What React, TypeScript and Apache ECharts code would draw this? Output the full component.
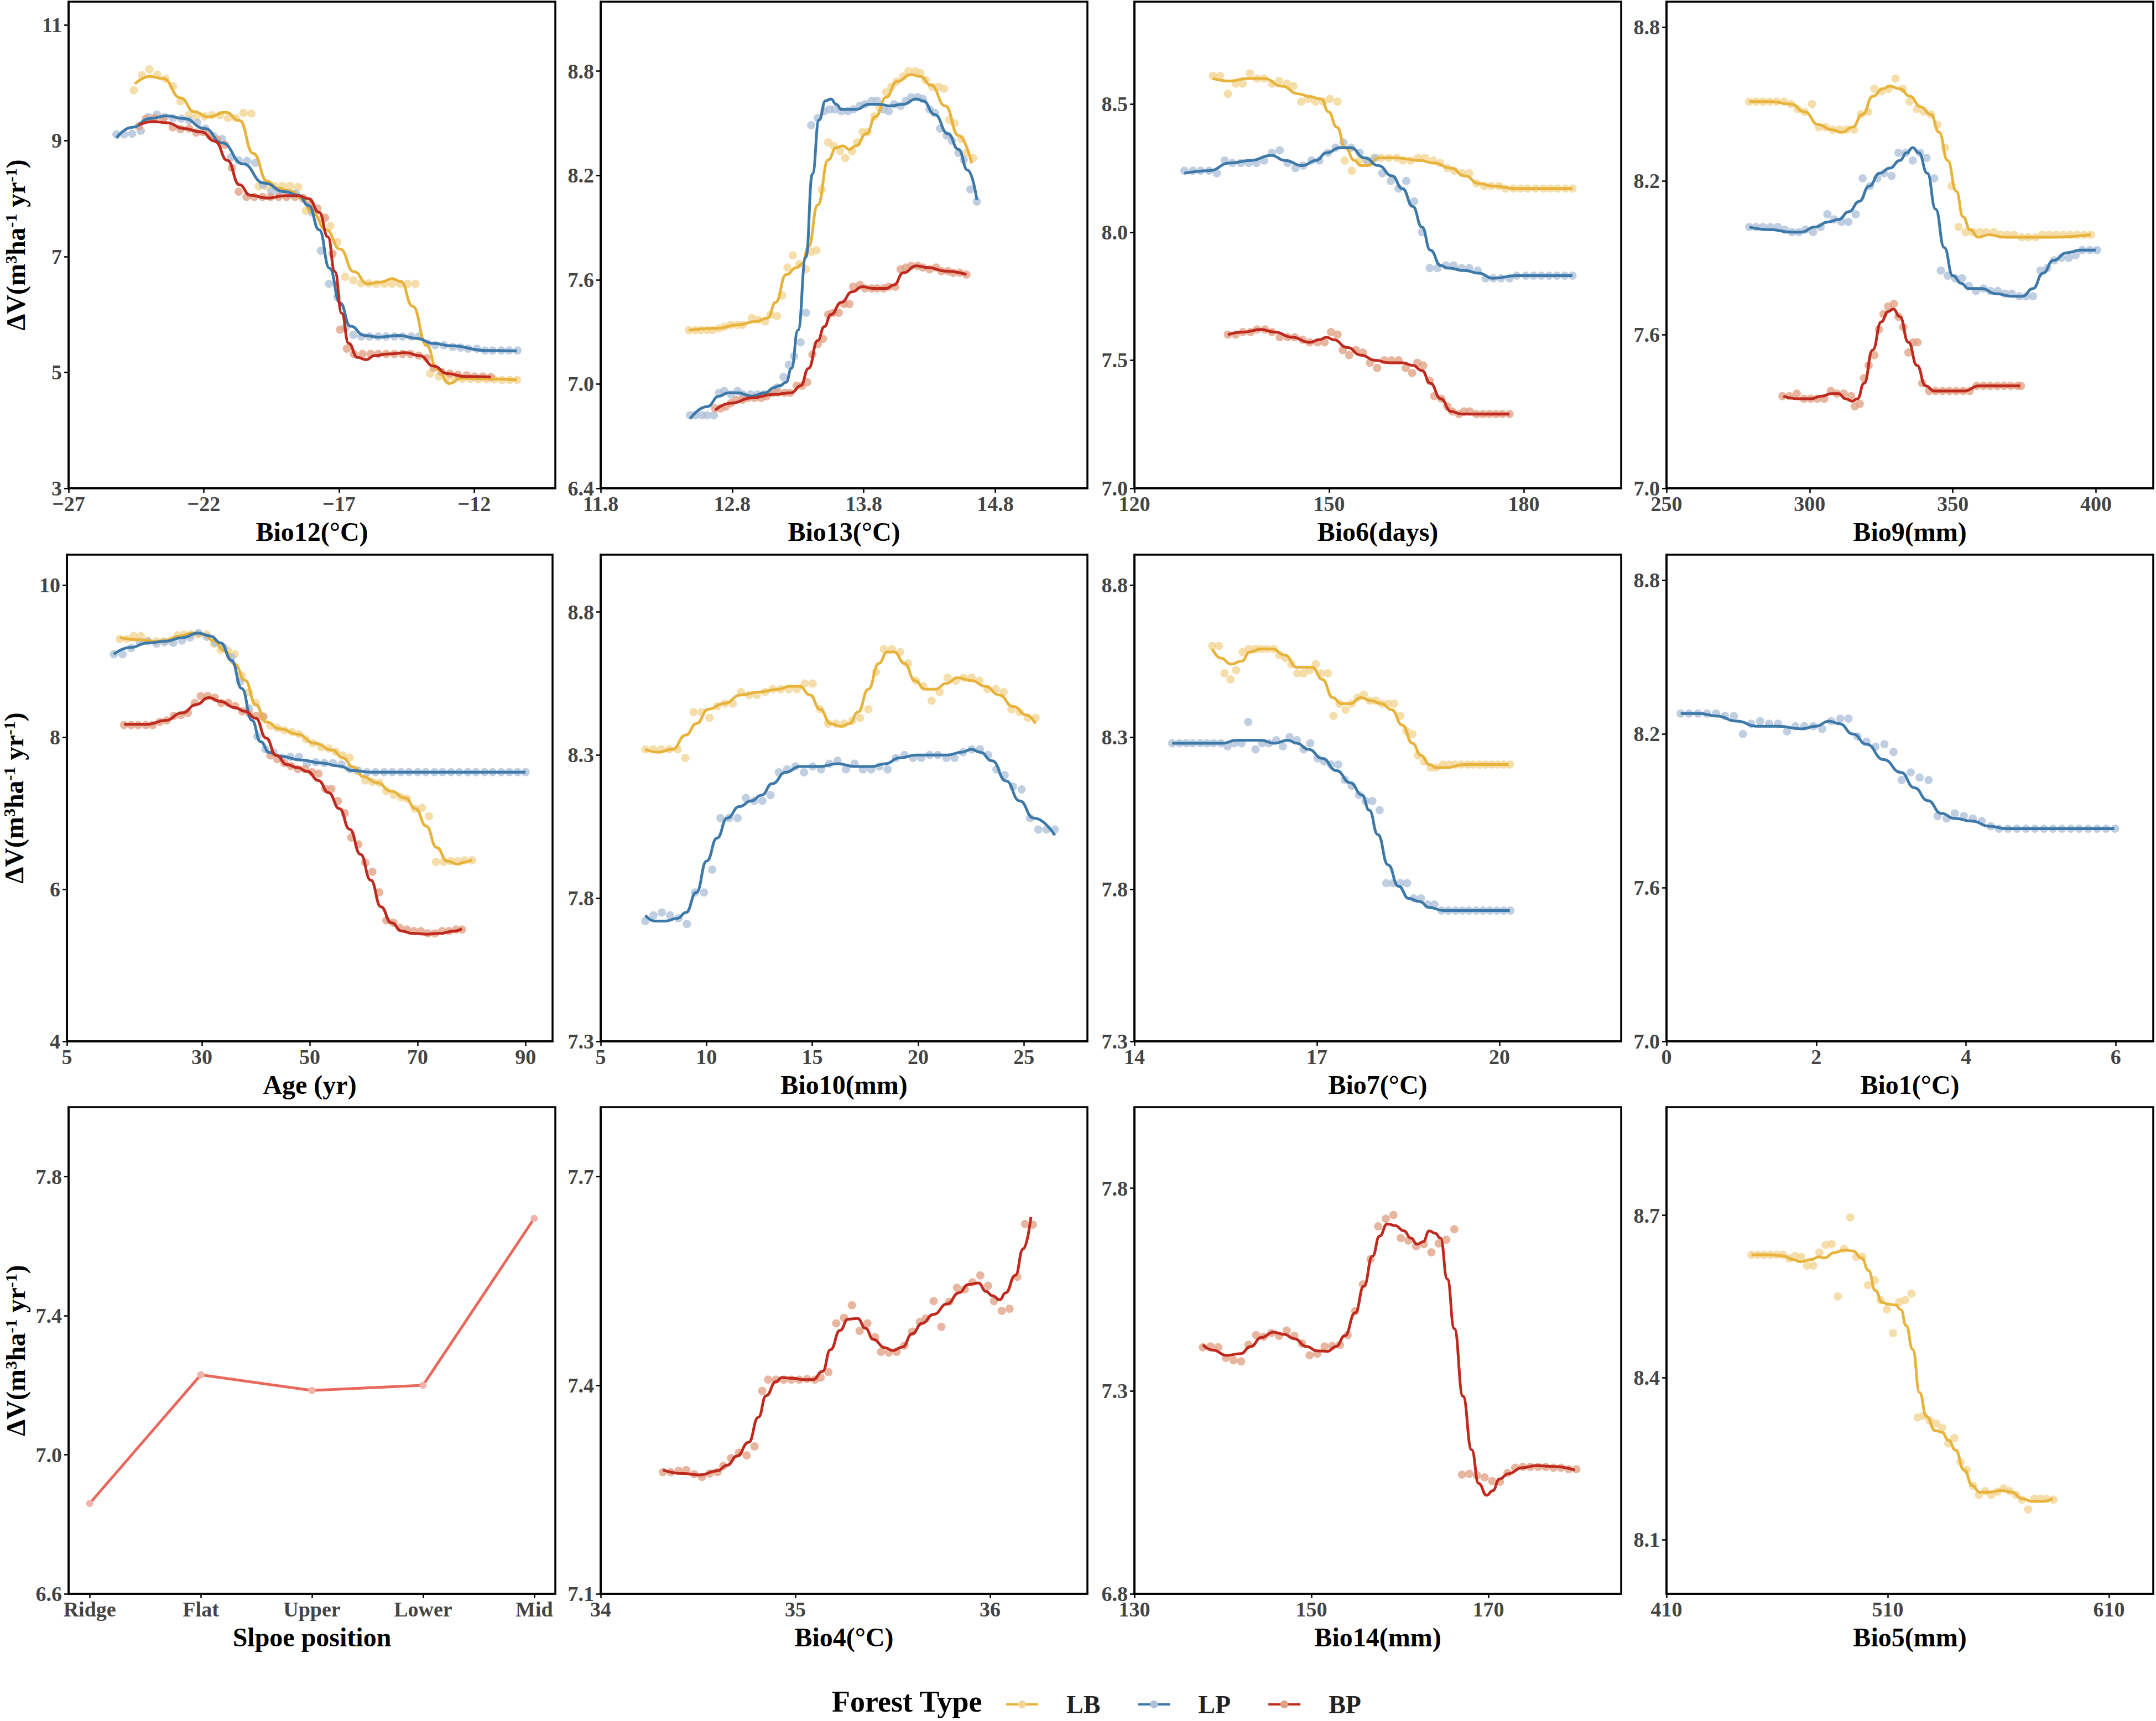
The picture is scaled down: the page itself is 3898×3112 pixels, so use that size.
import React, { useEffect, useRef } from "react";
import * as echarts from "echarts";

const FONT = "'Liberation Serif', 'Times New Roman', serif";

// ---------- Panel 1: Bio12 ----------
const bio12_xTicks = [-27, -22, -17, -12];
const bio12_yTicks = [3, 5, 7, 9, 11];
const bio12_LB_pts = [[-24.59,9.87],[-24.29,10.13],[-24.01,10.23],[-23.72,10.14],[-23.42,10.07],[-23.14,9.94],[-22.86,9.68],[-22.56,9.44],[-22.27,9.42],[-21.97,9.42],[-21.69,9.44],[-21.4,9.44],[-21.1,9.39],[-20.81,9.39],[-20.53,9.48],[-20.24,9.47],[-19.97,8.21],[-19.68,8.21],[-19.4,8.22],[-19.1,8.22],[-18.81,8.22],[-18.51,8.2],[-18.22,7.79],[-17.95,7.8],[-17.6,7.67],[-17.32,7.53],[-17.06,7.25],[-16.77,6.65],[-16.47,6.59],[-16.19,6.54],[-15.9,6.54],[-15.62,6.53],[-15.32,6.53],[-15.04,6.53],[-14.74,6.53],[-14.45,6.53],[-14.17,6.53],[-13.63,4.98],[-13.31,4.93],[-13.02,4.9],[-12.72,4.9],[-12.43,4.89],[-12.14,4.89],[-11.85,4.88],[-11.55,4.88],[-11.26,4.88],[-10.97,4.87],[-10.68,4.87],[-10.42,4.87]];
const bio12_LB_fit = [[-24.55,9.98],[-24.0,10.11],[-23.5,10.07],[-22.86,9.74],[-22.35,9.5],[-21.83,9.41],[-21.19,9.49],[-20.68,9.35],[-20.17,8.78],[-19.65,8.3],[-19.27,8.18],[-18.76,8.13],[-18.37,8.0],[-17.99,7.76],[-17.47,7.46],[-16.96,7.13],[-16.45,6.74],[-15.94,6.53],[-15.42,6.56],[-15.04,6.62],[-14.72,6.57],[-14.27,6.14],[-13.76,5.47],[-13.37,5.05],[-12.92,4.81],[-12.47,4.9],[-11.58,4.89],[-10.42,4.87]];
const bio12_LP_pts = [[-25.23,9.11],[-24.94,9.11],[-24.65,9.12],[-24.33,9.17],[-24.04,9.41],[-23.73,9.45],[-23.44,9.41],[-23.14,9.39],[-22.83,9.38],[-22.54,9.35],[-22.24,9.31],[-21.94,9.21],[-21.64,9.08],[-21.32,9.03],[-21.0,8.71],[-20.71,8.66],[-20.4,8.65],[-20.1,8.62],[-19.81,8.24],[-19.5,8.12],[-19.21,8.12],[-18.91,8.1],[-18.6,8.09],[-18.31,8.0],[-17.99,7.76],[-17.67,7.1],[-17.37,6.53],[-17.06,6.3],[-16.77,5.77],[-16.47,5.65],[-16.17,5.62],[-15.87,5.62],[-15.55,5.62],[-15.26,5.62],[-14.95,5.62],[-14.65,5.62],[-14.33,5.62],[-14.04,5.62],[-13.73,5.5],[-13.44,5.47],[-13.12,5.47],[-12.79,5.44],[-12.5,5.43],[-12.22,5.41],[-11.9,5.41],[-11.6,5.38],[-11.32,5.38],[-11.0,5.38],[-10.71,5.38],[-10.4,5.38]];
const bio12_LP_fit = [[-25.23,9.05],[-24.65,9.23],[-24.01,9.38],[-23.37,9.43],[-22.73,9.38],[-21.96,9.21],[-21.32,8.96],[-20.55,8.6],[-19.78,8.27],[-19.01,8.12],[-18.5,8.06],[-18.12,7.88],[-17.73,7.46],[-17.35,6.8],[-16.96,6.2],[-16.58,5.8],[-16.06,5.64],[-15.55,5.61],[-14.78,5.64],[-14.14,5.59],[-13.5,5.5],[-12.86,5.46],[-11.58,5.38],[-10.42,5.37]];
const bio12_BP_pts = [[-24.4,9.25],[-24.14,9.38],[-23.82,9.39],[-23.5,9.38],[-23.15,9.23],[-22.86,9.2],[-22.54,9.21],[-22.28,9.14],[-22.03,9.15],[-21.77,9.08],[-21.51,9.02],[-21.22,8.93],[-20.96,8.53],[-20.71,8.12],[-20.42,8.03],[-20.13,8.03],[-19.83,8.03],[-19.53,8.03],[-19.23,8.03],[-18.94,8.03],[-18.63,8.03],[-18.33,8.01],[-18.05,7.91],[-17.8,7.83],[-17.51,7.67],[-17.24,7.05],[-16.96,5.74],[-16.71,5.41],[-16.45,5.32],[-16.13,5.32],[-15.83,5.32],[-15.55,5.32],[-15.26,5.32],[-14.95,5.32],[-14.65,5.32],[-14.36,5.32],[-14.05,5.29],[-13.76,5.25],[-13.5,5.08],[-13.21,5.01],[-12.9,4.98],[-12.6,4.96],[-12.28,4.95],[-11.99,4.93],[-11.68,4.93],[-11.38,4.92]];
const bio12_BP_fit = [[-24.4,9.27],[-23.88,9.33],[-23.37,9.31],[-22.73,9.21],[-22.09,9.15],[-21.58,8.99],[-21.13,8.66],[-20.68,8.24],[-20.29,8.06],[-19.65,8.01],[-19.01,8.05],[-18.5,8.05],[-18.12,8.0],[-17.73,7.76],[-17.41,7.34],[-17.15,6.74],[-16.9,6.02],[-16.64,5.5],[-16.32,5.26],[-16.0,5.22],[-15.68,5.29],[-15.17,5.32],[-14.53,5.34],[-14.01,5.29],[-13.5,5.11],[-12.99,4.98],[-12.35,4.93],[-11.38,4.92]];

// ---------- Panel 2: Bio13 ----------
const bio13_xTicks = [11.8, 12.8, 13.8, 14.8];
const bio13_yTicks = [6.4, 7.0, 7.6, 8.2, 8.8];
const bio13_LB_pts = [[12.47,7.31],[12.52,7.31],[12.56,7.31],[12.61,7.31],[12.65,7.31],[12.7,7.32],[12.74,7.33],[12.79,7.34],[12.84,7.34],[12.88,7.34],[12.95,7.38],[13.0,7.37],[13.05,7.36],[13.09,7.4],[13.14,7.39],[13.18,7.51],[13.22,7.67],[13.26,7.74],[13.31,7.69],[13.36,7.66],[13.4,7.76],[13.44,7.77],[13.48,8.12],[13.53,8.39],[13.57,8.37],[13.62,8.34],[13.66,8.3],[13.71,8.34],[13.75,8.39],[13.79,8.45],[13.83,8.45],[13.88,8.54],[13.92,8.59],[13.97,8.68],[14.01,8.71],[14.05,8.74],[14.1,8.77],[14.14,8.8],[14.19,8.8],[14.23,8.79],[14.27,8.75],[14.32,8.71],[14.37,8.71],[14.41,8.7],[14.45,8.52],[14.49,8.5],[14.54,8.41],[14.58,8.33],[14.63,8.3]];
const bio13_LB_fit = [[12.47,7.31],[12.69,7.32],[12.84,7.34],[12.98,7.36],[13.07,7.38],[13.13,7.47],[13.21,7.63],[13.29,7.67],[13.33,7.69],[13.38,7.79],[13.45,8.03],[13.53,8.29],[13.59,8.36],[13.64,8.37],[13.69,8.35],[13.74,8.37],[13.82,8.44],[13.89,8.54],[13.97,8.65],[14.05,8.74],[14.16,8.78],[14.23,8.77],[14.31,8.72],[14.42,8.6],[14.52,8.43],[14.62,8.27]];
const bio13_LP_pts = [[12.48,6.82],[12.52,6.82],[12.57,6.82],[12.61,6.82],[12.66,6.82],[12.7,6.95],[12.74,6.96],[12.79,6.94],[12.84,6.96],[12.88,6.94],[12.94,6.94],[12.99,6.94],[13.04,6.94],[13.09,6.95],[13.14,6.98],[13.19,7.04],[13.23,7.11],[13.27,7.16],[13.32,7.24],[13.36,7.41],[13.4,8.49],[13.45,8.53],[13.5,8.57],[13.54,8.58],[13.58,8.58],[13.63,8.57],[13.68,8.57],[13.72,8.58],[13.77,8.6],[13.81,8.61],[13.86,8.63],[13.9,8.63],[13.95,8.58],[13.99,8.57],[14.03,8.61],[14.08,8.6],[14.12,8.63],[14.16,8.65],[14.21,8.65],[14.25,8.64],[14.3,8.58],[14.34,8.56],[14.38,8.47],[14.43,8.43],[14.47,8.4],[14.52,8.33],[14.56,8.29],[14.61,8.12],[14.66,8.05]];
const bio13_LP_fit = [[12.48,6.8],[12.61,6.87],[12.7,6.93],[12.77,6.95],[12.84,6.95],[12.95,6.93],[13.05,6.95],[13.12,6.98],[13.16,6.99],[13.21,7.01],[13.25,7.09],[13.3,7.31],[13.36,7.73],[13.41,8.21],[13.46,8.52],[13.51,8.63],[13.55,8.64],[13.59,8.61],[13.63,8.58],[13.74,8.58],[13.84,8.61],[13.92,8.61],[14.0,8.6],[14.1,8.61],[14.2,8.64],[14.25,8.63],[14.34,8.55],[14.44,8.44],[14.52,8.35],[14.59,8.23],[14.66,8.06]];
const bio13_BP_pts = [[12.67,6.86],[12.71,6.86],[12.75,6.87],[12.79,6.89],[12.83,6.91],[12.88,6.91],[12.92,6.92],[12.97,6.92],[13.02,6.92],[13.06,6.93],[13.11,6.95],[13.15,6.95],[13.2,6.95],[13.24,6.95],[13.29,6.99],[13.33,6.99],[13.37,7.01],[13.41,7.17],[13.45,7.23],[13.49,7.26],[13.53,7.4],[13.57,7.41],[13.61,7.41],[13.65,7.46],[13.69,7.46],[13.72,7.56],[13.77,7.57],[13.81,7.55],[13.86,7.55],[13.9,7.55],[13.95,7.55],[13.99,7.56],[14.04,7.56],[14.08,7.66],[14.12,7.67],[14.16,7.68],[14.21,7.68],[14.25,7.67],[14.3,7.66],[14.35,7.67],[14.39,7.65],[14.44,7.65],[14.48,7.64],[14.53,7.64],[14.58,7.63]];
const bio13_BP_fit = [[12.67,6.85],[12.79,6.89],[12.95,6.92],[13.11,6.94],[13.25,6.95],[13.32,6.99],[13.38,7.09],[13.45,7.25],[13.5,7.33],[13.55,7.4],[13.63,7.47],[13.71,7.53],[13.79,7.56],[13.87,7.55],[13.97,7.55],[14.03,7.57],[14.1,7.64],[14.2,7.68],[14.29,7.67],[14.42,7.65],[14.58,7.63]];

// ---------- Panel 3: Bio6 ----------
const bio6_xTicks = [120, 150, 180];
const bio6_yTicks = [7.0, 7.5, 8.0, 8.5];
const bio6_LB_pts = [[132.1,8.61],[133.2,8.61],[134.4,8.54],[135.6,8.58],[136.7,8.58],[137.8,8.62],[138.9,8.6],[140.0,8.6],[141.2,8.58],[142.3,8.59],[143.5,8.58],[144.5,8.57],[145.7,8.51],[146.8,8.52],[147.9,8.51],[149.1,8.51],[150.1,8.52],[151.3,8.51],[152.4,8.28],[153.5,8.24],[154.7,8.28],[155.8,8.28],[156.9,8.29],[158.0,8.29],[159.2,8.29],[160.4,8.29],[161.4,8.28],[162.6,8.28],[163.7,8.29],[164.8,8.29],[166.0,8.28],[167.1,8.27],[168.2,8.25],[169.3,8.24],[170.5,8.23],[171.6,8.23],[172.7,8.19],[173.9,8.18],[175.0,8.18],[176.2,8.18],[177.2,8.17],[178.4,8.17],[179.5,8.17],[180.6,8.17],[181.8,8.17],[183.0,8.17],[184.1,8.17],[185.2,8.17],[186.4,8.17],[187.5,8.17]];
const bio6_LB_fit = [[132.1,8.6],[134.7,8.59],[137.4,8.6],[140.0,8.6],[142.7,8.57],[145.3,8.54],[146.9,8.53],[148.8,8.52],[149.9,8.47],[151.2,8.41],[152.5,8.33],[153.9,8.28],[154.9,8.26],[156.0,8.26],[157.6,8.29],[160.3,8.29],[164.0,8.28],[166.1,8.27],[168.8,8.25],[170.9,8.22],[173.1,8.19],[175.2,8.18],[178.9,8.17],[187.5,8.17]];
const bio6_LP_pts = [[127.7,8.24],[129.0,8.24],[130.2,8.24],[131.5,8.24],[132.7,8.23],[133.9,8.28],[135.1,8.27],[136.4,8.27],[137.6,8.27],[138.8,8.27],[140.0,8.28],[141.2,8.31],[142.4,8.32],[143.6,8.27],[144.8,8.25],[146.0,8.26],[147.3,8.28],[148.5,8.28],[149.8,8.31],[151.0,8.33],[152.2,8.35],[153.4,8.33],[154.7,8.31],[155.9,8.28],[157.1,8.29],[158.2,8.23],[159.5,8.2],[160.7,8.17],[161.9,8.2],[163.1,8.12],[164.3,8.0],[165.5,7.86],[166.7,7.86],[168.0,7.87],[169.2,7.87],[170.4,7.86],[171.6,7.86],[172.9,7.85],[174.1,7.82],[175.3,7.82],[176.5,7.82],[177.8,7.82],[178.9,7.83],[180.3,7.83],[181.5,7.83],[182.7,7.83],[183.9,7.83],[185.1,7.83],[186.3,7.83],[187.5,7.83]];
const bio6_LP_fit = [[127.7,8.23],[131.5,8.24],[134.7,8.27],[137.9,8.28],[141.1,8.3],[143.2,8.28],[145.9,8.26],[148.0,8.28],[149.6,8.31],[151.7,8.33],[153.3,8.33],[155.5,8.29],[157.6,8.26],[159.7,8.22],[161.3,8.17],[162.9,8.1],[164.3,8.02],[165.6,7.93],[167.2,7.87],[168.3,7.86],[170.9,7.85],[173.1,7.84],[175.2,7.82],[178.9,7.83],[187.5,7.83]];
const bio6_BP_pts = [[134.4,7.6],[135.6,7.6],[136.7,7.61],[137.9,7.61],[138.9,7.62],[140.1,7.62],[141.2,7.61],[142.4,7.59],[143.6,7.59],[144.7,7.59],[145.9,7.58],[147.0,7.57],[148.2,7.57],[149.3,7.57],[150.3,7.61],[151.3,7.6],[152.1,7.54],[153.1,7.52],[154.1,7.54],[155.2,7.53],[156.3,7.49],[157.4,7.47],[158.5,7.5],[159.6,7.5],[160.7,7.5],[161.8,7.47],[162.8,7.45],[163.6,7.49],[164.5,7.48],[165.5,7.42],[166.2,7.36],[167.3,7.35],[168.2,7.32],[169.0,7.3],[170.0,7.29],[170.8,7.3],[171.7,7.3],[172.7,7.29],[173.7,7.29],[174.7,7.29],[175.7,7.29],[176.7,7.29],[177.8,7.29]];
const bio6_BP_fit = [[134.4,7.6],[136.8,7.61],[139.5,7.62],[141.6,7.61],[144.3,7.59],[147.0,7.57],[148.5,7.58],[149.6,7.59],[150.7,7.58],[152.8,7.55],[154.9,7.52],[157.1,7.5],[159.2,7.49],[161.3,7.49],[162.9,7.48],[164.3,7.46],[165.6,7.41],[167.2,7.35],[168.8,7.3],[170.4,7.29],[173.6,7.29],[177.8,7.29]];

// ---------- Panel 4: Bio9 ----------
const bio9_xTicks = [250, 300, 350, 400];
const bio9_yTicks = [7.0, 7.6, 8.2, 8.8];
const bio9_LB_pts = [[278.9,8.51],[281.3,8.51],[283.7,8.51],[286.1,8.51],[288.5,8.51],[291.1,8.51],[293.5,8.5],[295.8,8.48],[298.2,8.47],[300.8,8.5],[303.2,8.41],[305.6,8.41],[308.0,8.4],[310.5,8.4],[312.9,8.4],[315.5,8.4],[317.9,8.46],[320.5,8.47],[322.6,8.56],[325.2,8.55],[327.6,8.56],[330.0,8.6],[332.5,8.56],[334.9,8.51],[337.5,8.48],[339.9,8.47],[342.3,8.46],[344.6,8.42],[347.3,8.33],[349.6,8.18],[352.0,8.02],[354.5,8.0],[356.9,8.0],[359.3,8.0],[361.7,8.0],[364.3,8.0],[366.7,7.99],[369.0,7.99],[371.4,7.99],[374.0,7.98],[376.4,7.98],[378.9,7.98],[381.3,7.99],[383.7,7.99],[386.1,7.99],[388.5,7.99],[391.0,7.99],[393.4,7.99],[395.8,7.99],[398.2,7.99]];
const bio9_LB_fit = [[278.9,8.51],[286.3,8.51],[293.5,8.5],[298.2,8.47],[303.0,8.42],[307.7,8.4],[311.3,8.39],[314.9,8.41],[318.5,8.46],[322.0,8.53],[325.6,8.56],[328.0,8.57],[331.5,8.56],[335.1,8.53],[338.7,8.49],[342.3,8.46],[345.2,8.39],[348.2,8.28],[351.2,8.16],[353.6,8.06],[356.0,8.01],[358.9,7.98],[362.5,7.99],[368.5,7.98],[374.4,7.98],[382.7,7.98],[398.2,7.99]];
const bio9_LP_pts = [[278.9,8.02],[281.3,8.02],[283.7,8.02],[286.3,8.02],[288.9,8.02],[291.3,8.01],[293.8,8.0],[296.2,8.0],[298.6,8.01],[301.2,8.0],[303.8,8.02],[306.2,8.07],[308.6,8.05],[311.1,8.04],[313.5,8.04],[316.1,8.07],[318.5,8.21],[321.1,8.18],[323.6,8.21],[326.0,8.23],[328.6,8.22],[331.0,8.31],[333.6,8.31],[336.0,8.28],[338.5,8.31],[340.8,8.29],[343.5,8.21],[345.8,7.85],[348.2,7.83],[350.8,7.82],[353.2,7.82],[355.6,7.79],[358.1,7.77],[360.7,7.78],[363.1,7.77],[365.7,7.77],[368.2,7.76],[370.6,7.76],[373.2,7.75],[375.6,7.75],[378.0,7.75],[380.6,7.85],[383.0,7.86],[385.4,7.89],[387.9,7.9],[390.5,7.9],[392.9,7.91],[395.2,7.93],[397.9,7.93],[400.4,7.93]];
const bio9_LP_fit = [[278.9,8.02],[286.3,8.01],[293.5,8.0],[297.0,8.0],[301.8,8.02],[306.5,8.04],[310.1,8.05],[313.7,8.08],[317.3,8.12],[320.8,8.18],[324.4,8.23],[328.0,8.25],[331.5,8.28],[333.9,8.31],[336.0,8.33],[338.1,8.31],[341.1,8.23],[344.0,8.09],[347.0,7.94],[350.0,7.83],[353.0,7.8],[355.4,7.78],[360.1,7.78],[364.9,7.76],[370.8,7.75],[374.4,7.75],[378.0,7.78],[381.5,7.84],[385.1,7.89],[389.9,7.92],[394.6,7.93],[400.0,7.93]];
const bio9_BP_pts = [[290.5,7.36],[292.9,7.36],[295.5,7.37],[298.0,7.35],[300.4,7.35],[302.7,7.35],[305.1,7.35],[307.4,7.38],[309.5,7.37],[311.9,7.37],[314.5,7.36],[315.8,7.32],[317.5,7.33],[319.0,7.43],[320.6,7.48],[322.6,7.52],[324.2,7.62],[325.8,7.68],[327.4,7.71],[329.4,7.72],[331.0,7.67],[332.7,7.63],[334.5,7.53],[336.1,7.57],[337.7,7.57],[339.3,7.41],[341.7,7.38],[344.0,7.38],[346.4,7.38],[348.8,7.38],[351.2,7.38],[353.6,7.38],[355.9,7.38],[358.3,7.4],[360.7,7.4],[363.1,7.4],[365.5,7.4],[367.9,7.4],[370.2,7.4],[372.6,7.4],[373.8,7.4]];
const bio9_BP_fit = [[290.8,7.36],[295.8,7.35],[300.6,7.35],[304.2,7.36],[307.7,7.37],[310.1,7.37],[312.5,7.35],[314.9,7.34],[316.7,7.35],[319.0,7.41],[322.0,7.54],[325.0,7.65],[327.4,7.69],[329.2,7.7],[331.5,7.67],[334.5,7.57],[337.5,7.48],[340.5,7.4],[343.5,7.38],[348.2,7.38],[354.2,7.38],[359.0,7.4],[362.5,7.4],[373.5,7.4]];

// ---------- Panel 5: Age ----------
const age_xTicks = [5, 30, 50, 70, 90];
const age_yTicks = [4, 6, 8, 10];
const age_LB_pts = [[14.8,9.29],[16.1,9.29],[17.4,9.33],[18.7,9.33],[20.0,9.27],[21.5,9.26],[22.9,9.26],[24.2,9.27],[25.5,9.34],[26.7,9.35],[28.0,9.35],[29.3,9.35],[30.9,9.35],[32.2,9.23],[33.5,9.15],[34.8,9.14],[36.1,9.09],[37.4,8.81],[38.7,8.59],[40.0,8.45],[41.3,8.27],[42.7,8.15],[44.0,8.12],[45.3,8.09],[46.7,8.07],[48.0,8.04],[49.3,7.97],[50.6,7.92],[52.1,7.87],[53.5,7.85],[54.8,7.81],[56.1,7.76],[57.4,7.73],[58.7,7.56],[60.3,7.43],[61.6,7.41],[62.9,7.4],[64.2,7.29],[65.6,7.24],[66.9,7.21],[68.0,7.19],[69.5,7.06],[70.8,7.07],[72.1,6.96],[73.4,6.36],[74.8,6.36],[76.1,6.37],[77.4,6.37],[78.7,6.38],[80.1,6.38]];
const age_LB_fit = [[14.8,9.31],[18.7,9.28],[21.3,9.26],[23.2,9.27],[25.8,9.33],[28.4,9.37],[30.3,9.35],[32.2,9.27],[34.2,9.14],[36.1,8.96],[38.0,8.75],[40.0,8.43],[41.9,8.2],[44.5,8.11],[47.7,8.04],[50.9,7.92],[54.2,7.83],[56.1,7.73],[58.0,7.61],[60.0,7.48],[62.5,7.4],[65.1,7.29],[67.7,7.2],[69.6,7.06],[71.6,6.83],[73.5,6.55],[75.5,6.37],[77.4,6.33],[79.0,6.36],[80.1,6.39]];
const age_LP_pts = [[13.7,9.09],[15.3,9.09],[16.9,9.17],[18.5,9.25],[20.0,9.26],[21.6,9.23],[23.1,9.25],[24.7,9.24],[26.3,9.27],[27.8,9.31],[29.4,9.37],[30.9,9.32],[32.5,9.24],[34.0,9.18],[35.5,9.05],[37.1,8.73],[38.7,8.38],[40.3,8.01],[41.8,7.84],[43.3,7.8],[44.8,7.73],[46.4,7.74],[48.0,7.74],[49.5,7.65],[51.1,7.67],[52.7,7.66],[54.3,7.66],[55.9,7.64],[57.4,7.58],[59.0,7.56],[60.6,7.54],[62.2,7.54],[63.8,7.54],[65.3,7.54],[66.9,7.54],[68.4,7.54],[70.0,7.54],[71.5,7.54],[73.1,7.54],[74.6,7.54],[76.2,7.54],[77.7,7.54],[79.3,7.54],[80.8,7.54],[82.4,7.54],[83.9,7.54],[85.5,7.54],[87.0,7.54],[88.5,7.54],[90.0,7.54]];
const age_LP_fit = [[13.7,9.09],[16.7,9.18],[20.0,9.24],[23.2,9.26],[26.4,9.31],[29.3,9.37],[31.6,9.33],[33.5,9.24],[35.5,9.01],[37.4,8.64],[39.3,8.22],[40.9,7.94],[42.5,7.8],[44.5,7.75],[48.4,7.7],[52.2,7.66],[55.5,7.62],[58.0,7.56],[61.3,7.54],[90.0,7.54]];
const age_BP_pts = [[15.6,8.16],[16.9,8.16],[18.2,8.16],[19.6,8.16],[20.9,8.16],[22.2,8.2],[23.5,8.22],[24.8,8.28],[26.1,8.29],[27.4,8.32],[28.7,8.45],[29.8,8.54],[31.1,8.54],[32.4,8.52],[33.6,8.45],[34.9,8.45],[36.2,8.41],[37.5,8.34],[38.8,8.31],[40.1,8.28],[41.4,8.27],[42.7,7.76],[44.0,7.71],[45.3,7.66],[46.5,7.62],[47.8,7.58],[49.1,7.58],[50.4,7.54],[51.6,7.52],[52.9,7.32],[54.0,7.32],[55.2,7.16],[56.5,7.0],[57.7,6.68],[59.0,6.59],[60.3,6.35],[61.6,6.23],[62.9,5.96],[64.2,5.59],[65.5,5.56],[66.7,5.49],[68.0,5.47],[69.3,5.45],[70.6,5.45],[71.9,5.42],[73.2,5.42],[74.5,5.45],[75.8,5.45],[77.1,5.47],[78.2,5.47]];
const age_BP_fit = [[15.6,8.17],[20.0,8.17],[23.2,8.22],[26.4,8.32],[29.0,8.43],[31.3,8.52],[33.5,8.47],[36.1,8.39],[38.0,8.34],[40.0,8.25],[41.9,7.99],[43.8,7.76],[45.8,7.64],[47.7,7.6],[49.6,7.55],[51.6,7.43],[53.5,7.27],[55.5,7.06],[57.4,6.79],[59.4,6.46],[61.3,6.12],[63.2,5.77],[65.1,5.56],[67.1,5.45],[69.0,5.42],[71.6,5.41],[74.2,5.42],[76.7,5.45],[78.2,5.48]];

// ---------- Panel 6: Bio10 ----------
const bio10_xTicks = [5, 10, 15, 20, 25];
const bio10_yTicks = [7.3, 7.8, 8.3, 8.8];
const bio10_LB_pts = [[7.11,8.32],[7.49,8.32],[7.86,8.32],[8.25,8.32],[8.63,8.32],[9.0,8.29],[9.39,8.45],[9.76,8.45],[10.14,8.43],[10.5,8.47],[10.87,8.48],[11.24,8.48],[11.63,8.52],[12.01,8.51],[12.38,8.51],[12.77,8.52],[13.13,8.53],[13.5,8.53],[13.88,8.53],[14.27,8.53],[14.64,8.55],[15.02,8.55],[15.37,8.46],[15.75,8.41],[16.12,8.41],[16.51,8.41],[16.89,8.42],[17.26,8.43],[17.65,8.46],[18.01,8.59],[18.38,8.67],[18.76,8.67],[19.15,8.66],[19.52,8.62],[19.89,8.56],[20.25,8.54],[20.64,8.49],[21.02,8.52],[21.39,8.57],[21.78,8.56],[22.15,8.57],[22.53,8.57],[22.9,8.56],[23.28,8.53],[23.67,8.53],[24.04,8.52],[24.41,8.46],[24.8,8.45],[25.18,8.43],[25.55,8.43]];
const bio10_LB_fit = [[7.11,8.32],[7.73,8.31],[8.38,8.32],[9.03,8.37],[9.52,8.41],[10.09,8.46],[10.82,8.48],[11.63,8.51],[12.45,8.52],[13.42,8.53],[13.91,8.54],[14.4,8.54],[14.89,8.51],[15.37,8.46],[15.86,8.41],[16.35,8.4],[16.76,8.41],[17.16,8.45],[17.65,8.53],[18.14,8.62],[18.54,8.66],[18.87,8.66],[19.36,8.62],[19.85,8.56],[20.33,8.53],[20.82,8.53],[21.31,8.55],[21.88,8.57],[22.53,8.56],[23.18,8.54],[23.83,8.51],[24.48,8.47],[25.13,8.44],[25.54,8.41]];
const bio10_LP_pts = [[7.11,7.72],[7.5,7.74],[7.89,7.75],[8.28,7.74],[8.67,7.73],[9.07,7.71],[9.46,7.82],[9.88,7.82],[10.27,7.9],[10.66,8.08],[11.07,8.08],[11.47,8.08],[11.86,8.15],[12.25,8.14],[12.64,8.14],[13.03,8.16],[13.42,8.24],[13.81,8.25],[14.2,8.26],[14.61,8.24],[15.02,8.26],[15.41,8.25],[15.8,8.27],[16.19,8.28],[16.59,8.25],[17.0,8.27],[17.39,8.25],[17.78,8.25],[18.17,8.26],[18.56,8.25],[18.95,8.29],[19.36,8.3],[19.76,8.29],[20.15,8.29],[20.54,8.3],[20.93,8.3],[21.34,8.29],[21.72,8.29],[22.12,8.31],[22.53,8.32],[22.92,8.32],[23.31,8.3],[23.7,8.25],[24.09,8.23],[24.48,8.19],[24.89,8.18],[25.29,8.08],[25.68,8.04],[26.07,8.04],[26.46,8.04]];
const bio10_LP_fit = [[7.11,7.74],[7.57,7.72],[8.06,7.72],[8.63,7.73],[9.03,7.75],[9.52,7.82],[10.01,7.93],[10.5,8.01],[10.98,8.08],[11.55,8.12],[12.12,8.14],[12.61,8.16],[13.1,8.2],[13.75,8.24],[14.4,8.26],[15.37,8.26],[16.19,8.27],[17.0,8.26],[17.81,8.26],[18.46,8.27],[19.11,8.29],[19.93,8.3],[20.74,8.3],[21.39,8.3],[22.04,8.31],[22.53,8.32],[22.93,8.31],[23.5,8.28],[24.15,8.21],[24.8,8.14],[25.46,8.08],[26.46,8.02]];

// ---------- Panel 7: Bio7 ----------
const bio7_xTicks = [14, 17, 20];
const bio7_yTicks = [7.3, 7.8, 8.3, 8.8];
const bio7_LB_pts = [[15.28,8.6],[15.39,8.6],[15.48,8.51],[15.58,8.49],[15.67,8.52],[15.78,8.58],[15.88,8.59],[15.99,8.59],[16.08,8.59],[16.18,8.59],[16.29,8.59],[16.38,8.57],[16.48,8.56],[16.58,8.54],[16.68,8.51],[16.78,8.51],[16.88,8.52],[16.98,8.54],[17.07,8.51],[17.18,8.51],[17.27,8.37],[17.37,8.41],[17.47,8.39],[17.57,8.41],[17.67,8.43],[17.77,8.44],[17.87,8.42],[17.97,8.42],[18.07,8.41],[18.17,8.41],[18.27,8.41],[18.37,8.37],[18.47,8.32],[18.57,8.31],[18.66,8.24],[18.76,8.22],[18.87,8.2],[18.96,8.2],[19.07,8.21],[19.17,8.21],[19.27,8.21],[19.37,8.21],[19.48,8.21],[19.57,8.21],[19.67,8.21],[19.77,8.21],[19.87,8.21],[19.97,8.21],[20.07,8.21],[20.17,8.21]];
const bio7_LB_fit = [[15.28,8.59],[15.42,8.56],[15.59,8.54],[15.76,8.55],[15.9,8.58],[16.07,8.59],[16.27,8.59],[16.47,8.57],[16.67,8.53],[16.81,8.53],[16.92,8.53],[17.09,8.49],[17.26,8.43],[17.4,8.41],[17.55,8.41],[17.72,8.43],[17.89,8.42],[18.06,8.41],[18.23,8.39],[18.4,8.34],[18.57,8.28],[18.71,8.24],[18.85,8.21],[18.96,8.2],[19.13,8.2],[19.42,8.21],[20.15,8.21]];
const bio7_LP_pts = [[14.62,8.28],[14.74,8.28],[14.85,8.28],[14.96,8.28],[15.08,8.28],[15.19,8.28],[15.3,8.28],[15.42,8.28],[15.53,8.27],[15.64,8.28],[15.76,8.28],[15.87,8.35],[15.99,8.26],[16.1,8.28],[16.21,8.28],[16.33,8.29],[16.44,8.27],[16.55,8.3],[16.67,8.29],[16.78,8.26],[16.89,8.28],[17.01,8.23],[17.12,8.22],[17.23,8.21],[17.35,8.21],[17.46,8.16],[17.57,8.14],[17.69,8.11],[17.8,8.09],[17.91,8.09],[18.03,8.06],[18.14,7.82],[18.25,7.82],[18.37,7.82],[18.48,7.82],[18.59,7.77],[18.71,7.77],[18.82,7.75],[18.93,7.75],[19.05,7.73],[19.16,7.73],[19.28,7.73],[19.39,7.73],[19.5,7.73],[19.62,7.73],[19.73,7.73],[19.84,7.73],[19.96,7.73],[20.07,7.73],[20.18,7.73]];
const bio7_LP_fit = [[14.62,8.28],[15.16,8.28],[15.45,8.28],[15.67,8.29],[15.87,8.29],[16.07,8.29],[16.3,8.28],[16.52,8.29],[16.67,8.28],[16.86,8.26],[17.09,8.23],[17.32,8.19],[17.55,8.15],[17.74,8.11],[17.86,8.06],[18.0,7.98],[18.17,7.88],[18.34,7.81],[18.51,7.77],[18.68,7.76],[18.85,7.74],[19.08,7.73],[19.36,7.73],[20.17,7.73]];

// ---------- Panel 8: Bio1 ----------
const bio1_xTicks = [0, 2, 4, 6];
const bio1_yTicks = [7.0, 7.6, 8.2, 8.8];
const bio1_LP_pts = [[0.19,8.28],[0.3,8.28],[0.42,8.28],[0.54,8.28],[0.66,8.28],[0.78,8.27],[0.9,8.27],[1.02,8.2],[1.13,8.24],[1.25,8.25],[1.37,8.24],[1.49,8.24],[1.61,8.21],[1.72,8.23],[1.84,8.23],[1.96,8.23],[2.08,8.22],[2.2,8.25],[2.32,8.26],[2.43,8.26],[2.55,8.19],[2.67,8.17],[2.79,8.15],[2.91,8.16],[3.03,8.13],[3.14,8.02],[3.26,8.05],[3.38,8.03],[3.5,8.02],[3.62,7.88],[3.74,7.87],[3.85,7.89],[3.97,7.88],[4.09,7.87],[4.21,7.86],[4.33,7.84],[4.44,7.83],[4.56,7.83],[4.68,7.83],[4.8,7.83],[4.92,7.83],[5.04,7.83],[5.16,7.83],[5.28,7.83],[5.4,7.83],[5.51,7.83],[5.63,7.83],[5.75,7.83],[5.87,7.83],[5.99,7.83]];
const bio1_LP_fit = [[0.19,8.28],[0.44,8.28],[0.67,8.27],[0.94,8.25],[1.21,8.23],[1.49,8.23],[1.81,8.22],[1.99,8.23],[2.17,8.25],[2.31,8.24],[2.49,8.2],[2.67,8.16],[2.9,8.1],[3.13,8.05],[3.31,7.99],[3.49,7.94],[3.67,7.89],[3.85,7.87],[4.08,7.86],[4.31,7.84],[4.54,7.83],[4.85,7.83],[5.98,7.83]];

// ---------- Panel 9: Slope position ----------
const slope_cats = ["Ridge", "Flat", "Upper", "Lower", "Mid"];
const slope_vals = [6.86, 7.23, 7.185, 7.2, 7.68];
const slope_yTicks = [6.6, 7.0, 7.4, 7.8];

// ---------- Panel 10: Bio4 ----------
const bio4_xTicks = [34, 35, 36];
const bio4_yTicks = [7.1, 7.4, 7.7];
const bio4_BP_pts = [[34.32,7.275],[34.36,7.275],[34.4,7.277],[34.44,7.278],[34.48,7.272],[34.52,7.268],[34.56,7.273],[34.6,7.275],[34.63,7.284],[34.67,7.295],[34.71,7.303],[34.75,7.299],[34.79,7.312],[34.83,7.392],[34.86,7.408],[34.9,7.408],[34.94,7.408],[34.98,7.408],[35.02,7.408],[35.06,7.409],[35.1,7.408],[35.13,7.411],[35.17,7.419],[35.21,7.489],[35.25,7.497],[35.29,7.515],[35.33,7.478],[35.37,7.489],[35.41,7.469],[35.44,7.448],[35.48,7.447],[35.52,7.448],[35.56,7.457],[35.6,7.477],[35.64,7.491],[35.67,7.496],[35.71,7.521],[35.75,7.484],[35.79,7.52],[35.83,7.54],[35.87,7.538],[35.91,7.548],[35.95,7.558],[35.99,7.543],[36.02,7.521],[36.06,7.507],[36.1,7.51],[36.14,7.556],[36.18,7.632],[36.22,7.631]];
const bio4_BP_fit = [[34.32,7.278],[34.42,7.273],[34.51,7.271],[34.6,7.277],[34.65,7.285],[34.7,7.298],[34.76,7.318],[34.81,7.354],[34.85,7.385],[34.9,7.405],[34.93,7.411],[34.99,7.41],[35.04,7.408],[35.09,7.408],[35.14,7.42],[35.18,7.451],[35.23,7.479],[35.27,7.495],[35.32,7.496],[35.36,7.482],[35.4,7.466],[35.46,7.454],[35.5,7.45],[35.55,7.455],[35.6,7.474],[35.65,7.489],[35.71,7.502],[35.78,7.517],[35.84,7.533],[35.89,7.545],[35.94,7.547],[35.98,7.535],[36.01,7.529],[36.05,7.523],[36.08,7.533],[36.13,7.558],[36.17,7.596],[36.21,7.642]];

// ---------- Panel 11: Bio14 ----------
const bio14_xTicks = [130, 150, 170];
const bio14_yTicks = [6.8, 7.3, 7.8];
const bio14_BP_pts = [[137.74,7.408],[138.6,7.41],[139.47,7.408],[140.33,7.382],[141.2,7.376],[142.06,7.373],[142.89,7.414],[143.75,7.438],[144.6,7.434],[145.48,7.443],[146.35,7.436],[147.21,7.449],[148.07,7.436],[148.94,7.417],[149.8,7.388],[150.67,7.392],[151.49,7.41],[152.36,7.411],[153.22,7.414],[154.09,7.438],[154.95,7.497],[155.82,7.563],[156.68,7.625],[157.54,7.706],[158.41,7.725],[159.27,7.734],[160.1,7.677],[160.96,7.671],[161.83,7.657],[162.69,7.662],[163.56,7.642],[164.38,7.664],[165.25,7.673],[166.15,7.699],[167.01,7.094],[167.84,7.096],[168.7,7.092],[169.57,7.087],[170.43,7.078],[171.3,7.076],[172.16,7.098],[173.03,7.111],[173.89,7.113],[174.75,7.113],[175.62,7.113],[176.48,7.113],[177.35,7.111],[178.21,7.111],[179.08,7.107],[179.94,7.107]];
const bio14_BP_fit = [[137.74,7.414],[138.84,7.401],[140.41,7.388],[141.98,7.392],[143.16,7.41],[144.34,7.432],[145.72,7.445],[146.9,7.44],[148.07,7.429],[149.45,7.41],[150.63,7.399],[151.81,7.398],[152.79,7.41],[153.77,7.436],[154.95,7.493],[155.93,7.559],[156.91,7.633],[157.7,7.682],[158.57,7.712],[159.47,7.708],[160.45,7.695],[161.24,7.677],[161.94,7.662],[162.61,7.668],[163.32,7.695],[163.99,7.689],[164.58,7.677],[165.36,7.576],[166.15,7.454],[167.13,7.287],[168.11,7.155],[168.9,7.072],[169.8,7.043],[170.47,7.054],[171.26,7.083],[172.24,7.096],[173.81,7.111],[175.38,7.116],[177.35,7.114],[179.78,7.105]];

// ---------- Panel 12: Bio5 ----------
const bio5_xTicks = [410, 510, 610];
const bio5_yTicks = [8.1, 8.4, 8.7];
const bio5_LB_pts = [[448.4,8.627],[451.3,8.627],[454.1,8.627],[457.0,8.627],[459.8,8.627],[462.6,8.627],[465.4,8.62],[468.1,8.625],[470.9,8.623],[473.5,8.607],[476.3,8.607],[479.1,8.631],[481.9,8.645],[484.6,8.647],[487.4,8.55],[490.2,8.638],[493.0,8.696],[495.7,8.623],[498.5,8.623],[501.1,8.571],[504.1,8.58],[506.8,8.543],[509.6,8.526],[512.4,8.482],[515.2,8.54],[517.9,8.543],[520.7,8.555],[523.5,8.326],[526.3,8.329],[529.0,8.32],[531.8,8.315],[534.6,8.307],[537.4,8.278],[540.1,8.288],[542.9,8.244],[545.7,8.229],[548.5,8.2],[551.2,8.183],[554.0,8.19],[556.8,8.183],[559.6,8.189],[562.4,8.195],[565.1,8.19],[567.9,8.183],[570.7,8.174],[573.5,8.156],[576.2,8.176],[579.0,8.176],[581.8,8.176],[584.9,8.174]];
const bio5_LB_fit = [[448.4,8.627],[456.6,8.627],[462.7,8.625],[467.4,8.618],[470.4,8.614],[475.1,8.618],[478.9,8.623],[481.2,8.621],[485.9,8.631],[490.5,8.636],[494.3,8.634],[498.2,8.621],[501.3,8.598],[504.4,8.561],[507.5,8.539],[509.8,8.536],[513.6,8.534],[516.0,8.525],[518.3,8.496],[521.3,8.452],[524.4,8.372],[527.5,8.328],[531.4,8.302],[534.4,8.299],[537.5,8.284],[540.6,8.266],[544.5,8.229],[548.3,8.2],[551.4,8.188],[556.0,8.188],[561.4,8.191],[566.1,8.188],[570.7,8.176],[575.3,8.171],[579.9,8.171],[584.6,8.176]];

// ---------- styles / layout ----------
const COLORS: Record<string, { line: string; pt: string }> = {
  LB: { line: "#E8B33B", pt: "#F2D592" },
  LP: { line: "#3C79A9", pt: "#AEC0D8" },
  BP: { line: "#BF2A1F", pt: "#E2A084" },
};
const SLOPE_LINE = "#E8685C";
const SLOPE_PT = "#F3B3AB";

const COL_LEFT = [124, 1086, 2051, 3013];
const ROW_TOP = [3, 1003, 2002];
const PANEL_W = 880;
const PANEL_H = 880;

const Y_NAME = "ΔV(m{s|3}ha{s|-1} yr{s|-1})";

type SeriesDef = { ft: string; pts: number[][]; fit: number[][] };
type PanelDef = {
  xName: string; xMin: number; xMax: number; xTicks: number[]; xDec: number;
  yMin: number; yMax: number; yTicks: number[]; yDec: number;
  series: SeriesDef[]; cats?: string[]; leftOverride?: number;
};

const panels: PanelDef[] = [
  { xName: "Bio12(°C)", xMin: -27, xMax: -9, xTicks: bio12_xTicks, xDec: 0, yMin: 3, yMax: 11.4, yTicks: bio12_yTicks, yDec: 0,
    series: [{ ft: "LB", pts: bio12_LB_pts, fit: bio12_LB_fit }, { ft: "LP", pts: bio12_LP_pts, fit: bio12_LP_fit }, { ft: "BP", pts: bio12_BP_pts, fit: bio12_BP_fit }] },
  { xName: "Bio13(°C)", xMin: 11.8, xMax: 15.5, xTicks: bio13_xTicks, xDec: 1, yMin: 6.4, yMax: 9.2, yTicks: bio13_yTicks, yDec: 1,
    series: [{ ft: "LB", pts: bio13_LB_pts, fit: bio13_LB_fit }, { ft: "LP", pts: bio13_LP_pts, fit: bio13_LP_fit }, { ft: "BP", pts: bio13_BP_pts, fit: bio13_BP_fit }] },
  { xName: "Bio6(days)", xMin: 120, xMax: 195, xTicks: bio6_xTicks, xDec: 0, yMin: 7.0, yMax: 8.9, yTicks: bio6_yTicks, yDec: 1,
    series: [{ ft: "LB", pts: bio6_LB_pts, fit: bio6_LB_fit }, { ft: "LP", pts: bio6_LP_pts, fit: bio6_LP_fit }, { ft: "BP", pts: bio6_BP_pts, fit: bio6_BP_fit }] },
  { xName: "Bio9(mm)", xMin: 250, xMax: 420, xTicks: bio9_xTicks, xDec: 0, yMin: 7.0, yMax: 8.9, yTicks: bio9_yTicks, yDec: 1,
    series: [{ ft: "LB", pts: bio9_LB_pts, fit: bio9_LB_fit }, { ft: "LP", pts: bio9_LP_pts, fit: bio9_LP_fit }, { ft: "BP", pts: bio9_BP_pts, fit: bio9_BP_fit }] },
  { xName: "Age (yr)", xMin: 5, xMax: 95, xTicks: age_xTicks, xDec: 0, yMin: 4, yMax: 10.4, yTicks: age_yTicks, yDec: 0, leftOverride: 119,
    series: [{ ft: "LB", pts: age_LB_pts, fit: age_LB_fit }, { ft: "LP", pts: age_LP_pts, fit: age_LP_fit }, { ft: "BP", pts: age_BP_pts, fit: age_BP_fit }] },
  { xName: "Bio10(mm)", xMin: 5, xMax: 28, xTicks: bio10_xTicks, xDec: 0, yMin: 7.3, yMax: 9.0, yTicks: bio10_yTicks, yDec: 1,
    series: [{ ft: "LB", pts: bio10_LB_pts, fit: bio10_LB_fit }, { ft: "LP", pts: bio10_LP_pts, fit: bio10_LP_fit }] },
  { xName: "Bio7(°C)", xMin: 14, xMax: 22, xTicks: bio7_xTicks, xDec: 0, yMin: 7.3, yMax: 8.9, yTicks: bio7_yTicks, yDec: 1,
    series: [{ ft: "LB", pts: bio7_LB_pts, fit: bio7_LB_fit }, { ft: "LP", pts: bio7_LP_pts, fit: bio7_LP_fit }] },
  { xName: "Bio1(°C)", xMin: 0, xMax: 6.5, xTicks: bio1_xTicks, xDec: 0, yMin: 7.0, yMax: 8.9, yTicks: bio1_yTicks, yDec: 1,
    series: [{ ft: "LP", pts: bio1_LP_pts, fit: bio1_LP_fit }] },
  { xName: "Slpoe position", xMin: -0.19, xMax: 4.19, xTicks: [0, 1, 2, 3, 4], xDec: 0, yMin: 6.6, yMax: 8.0, yTicks: slope_yTicks, yDec: 1,
    series: [], cats: slope_cats },
  { xName: "Bio4(°C)", xMin: 34, xMax: 36.5, xTicks: bio4_xTicks, xDec: 0, yMin: 7.1, yMax: 7.8, yTicks: bio4_yTicks, yDec: 1,
    series: [{ ft: "BP", pts: bio4_BP_pts, fit: bio4_BP_fit }] },
  { xName: "Bio14(mm)", xMin: 130, xMax: 185, xTicks: bio14_xTicks, xDec: 0, yMin: 6.8, yMax: 8.0, yTicks: bio14_yTicks, yDec: 1,
    series: [{ ft: "BP", pts: bio14_BP_pts, fit: bio14_BP_fit }] },
  { xName: "Bio5(mm)", xMin: 410, xMax: 630, xTicks: bio5_xTicks, xDec: 0, yMin: 8.0, yMax: 8.9, yTicks: bio5_yTicks, yDec: 1,
    series: [{ ft: "LB", pts: bio5_LB_pts, fit: bio5_LB_fit }] },
];

const fmt = (v: number, d: number) => v.toFixed(d).replace("-", "\u2212");

function buildOption() {
  const grid: any[] = [];
  const xAxis: any[] = [];
  const yAxis: any[] = [];
  const series: any[] = [];
  const tickLabel = { fontFamily: FONT, fontWeight: "bold", fontSize: 38, color: "#444" };

  panels.forEach((p, i) => {
    const col = i % 4;
    const row = Math.floor(i / 4);
    grid.push({
      left: p.leftOverride ?? COL_LEFT[col], top: ROW_TOP[row], width: PANEL_W, height: PANEL_H,
      show: true, borderColor: "#000", borderWidth: 3.5, backgroundColor: "#fff", containLabel: false,
    });
    const cats = p.cats;
    xAxis.push({
      type: "value", gridIndex: i, min: p.xMin, max: p.xMax,
      name: p.xName, nameLocation: "middle", nameGap: 54,
      nameTextStyle: { fontFamily: FONT, fontWeight: "bold", fontSize: 48, color: "#000" },
      axisLine: { show: true, onZero: false, lineStyle: { color: "#000", width: 3.5 } },
      axisTick: { show: true, customValues: p.xTicks, length: 8, lineStyle: { color: "#000", width: 2.5 } },
      axisLabel: {
        ...tickLabel, margin: 9, customValues: p.xTicks,
        formatter: (v: number) => (cats ? cats[Math.round(v)] : fmt(v, p.xDec)),
      },
      splitLine: { show: false },
    });
    yAxis.push({
      type: "value", gridIndex: i, min: p.yMin, max: p.yMax,
      name: col === 0 ? Y_NAME : "", nameLocation: "middle", nameGap: 72,
      nameTextStyle: {
        fontFamily: FONT, fontWeight: "bold", fontSize: 48, color: "#000",
        rich: { s: { fontFamily: FONT, fontWeight: "bold", fontSize: 30, color: "#000", verticalAlign: "top" } },
      },
      axisLine: { show: true, onZero: false, lineStyle: { color: "#000", width: 3.5 } },
      axisTick: { show: true, customValues: p.yTicks, length: 8, lineStyle: { color: "#000", width: 2.5 } },
      axisLabel: { ...tickLabel, margin: 12, customValues: p.yTicks, formatter: (v: number) => fmt(v, p.yDec) },
      splitLine: { show: false },
    });

    p.series.forEach((s) => {
      const c = COLORS[s.ft];
      series.push({
        type: "line", name: s.ft, xAxisIndex: i, yAxisIndex: i, data: s.fit,
        smooth: 0.5, smoothMonotone: "x", symbol: "circle", showSymbol: false, symbolSize: 14,
        lineStyle: { color: c.line, width: 5 }, itemStyle: { color: c.line }, z: 3, silent: true,
      });
    });
    p.series.forEach((s) => {
      const c = COLORS[s.ft];
      series.push({
        type: "scatter", name: s.ft, xAxisIndex: i, yAxisIndex: i, data: s.pts,
        symbolSize: 15, itemStyle: { color: c.pt, opacity: 0.78 }, z: 2, silent: true,
      });
    });
    if (cats) {
      series.push({
        type: "line", name: "Slope", xAxisIndex: i, yAxisIndex: i,
        data: slope_cats.map((_, k) => [k, slope_vals[k]]),
        symbol: "circle", showSymbol: true, symbolSize: 13,
        lineStyle: { color: SLOPE_LINE, width: 5 }, itemStyle: { color: SLOPE_PT }, z: 3, silent: true,
      });
    }
  });

  return {
    animation: false,
    backgroundColor: "#fff",
    grid, xAxis, yAxis, series,
    legend: {
      data: ["LB", "LP", "BP"].map((n) => ({
        name: n, itemStyle: { color: COLORS[n].pt }, lineStyle: { color: COLORS[n].line, width: 4 },
      })),
      left: 1812, top: 3054, itemWidth: 58, itemHeight: 18, itemGap: 66, selectedMode: false,
      textStyle: { fontFamily: FONT, fontWeight: "bold", fontSize: 46, color: "#222", padding: [0, 0, 0, 46] },
    },
    graphic: [
      {
        type: "text", left: 1504, top: 3050,
        style: { text: "Forest Type", fontFamily: FONT, fontWeight: "bold", fontSize: 54, fill: "#000" },
      },
    ],
  };
}

export default function App() {
  const ref = useRef<HTMLDivElement>(null);
  useEffect(() => {
    if (!ref.current) return;
    const chart = echarts.init(ref.current, undefined, { renderer: "svg" });
    chart.setOption(buildOption() as any);
    return () => chart.dispose();
  }, []);
  return (
    <div
      ref={ref}
      style={{ position: "absolute", left: 0, top: 0, width: 3898, height: 3112, background: "#fff" }}
    />
  );
}
